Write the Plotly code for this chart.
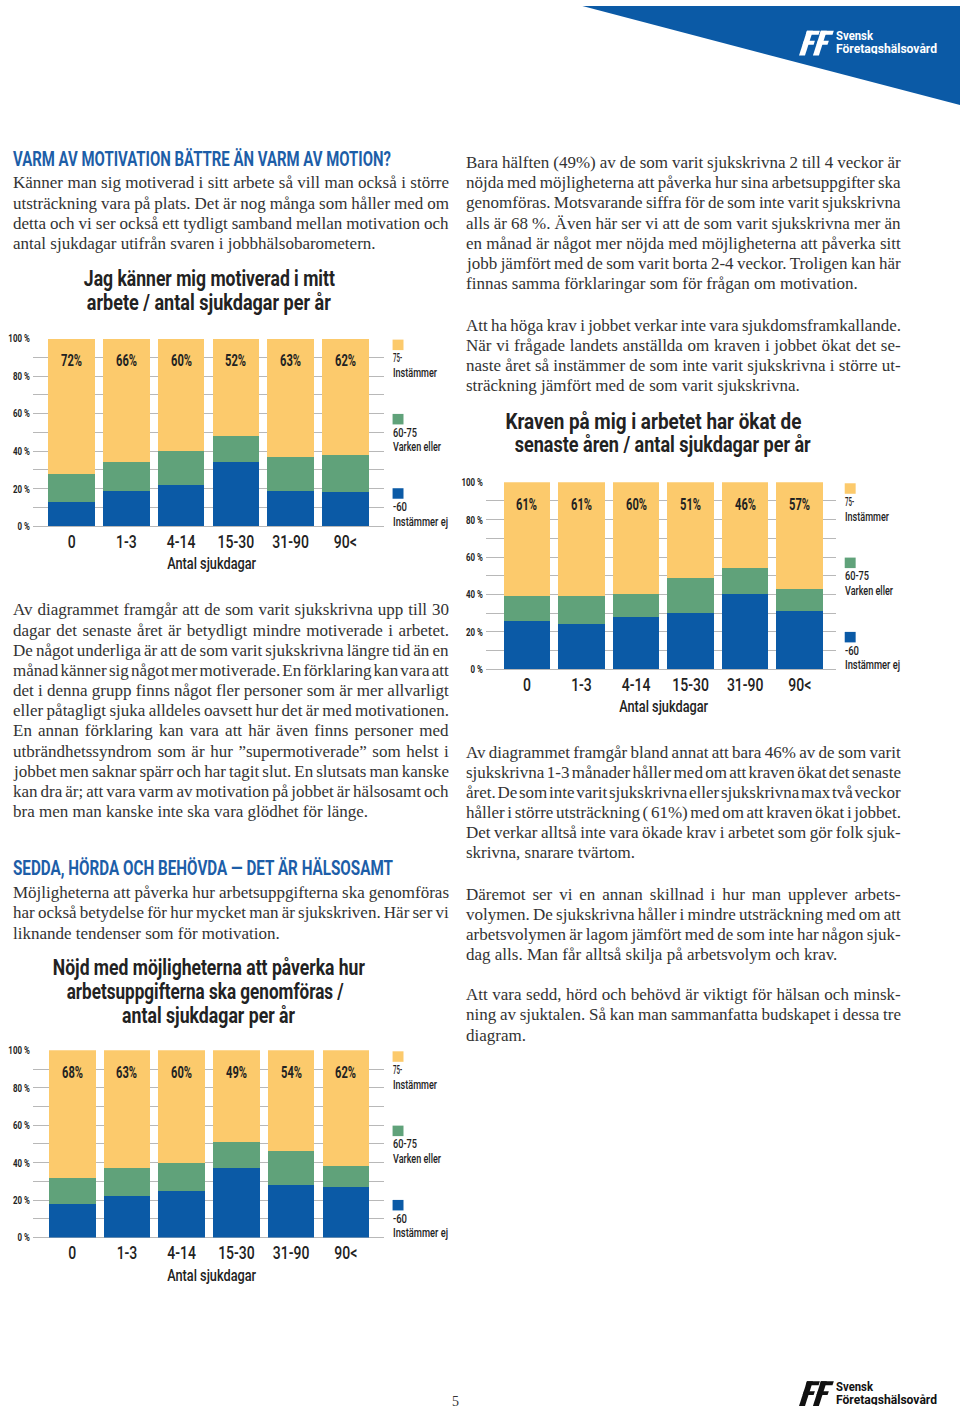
import plotly.graph_objects as go

W, H = 960, 1415

# ---------------- data ----------------
categories = ["0", "1-3", "4-14", "15-30", "31-90", "90<"]
y_tick_values = [0, 10, 20, 30, 40, 50, 60, 70, 80, 90, 100]
y_tick_labels = ["0 %", "", "20 %", "", "40 %", "", "60 %", "", "80 %", "", "100 %"]

legend_ranges = ["75-", "60-75", "-60"]
legend_names = ["Instämmer", "Varken eller", "Instämmer ej"]

# Chart 1: Jag känner mig motiverad i mitt arbete
motiv_instammer_ej = [13, 19, 22, 34, 19, 18]
motiv_varken = [15, 15, 18, 14, 18, 20]
motiv_instammer = [72, 66, 60, 52, 63, 62]

# Chart 2: Kraven på mig i arbetet har ökat de senaste åren
krav_instammer_ej = [26, 24, 28, 30, 40, 31]
krav_varken = [13, 15, 12, 19, 14, 12]
krav_instammer = [61, 61, 60, 51, 46, 57]

# Chart 3: Nöjd med möjligheterna att påverka hur arbetsuppgifterna ska genomföras
nojd_instammer_ej = [18, 22, 25, 37, 28, 27]
nojd_varken = [14, 15, 15, 14, 18, 11]
nojd_instammer = [68, 63, 60, 49, 54, 62]

chart1_title = ["Jag känner mig motiverad i mitt", "arbete / antal sjukdagar per år"]
chart2_title = ["Kraven på mig i arbetet har ökat de", "senaste åren / antal sjukdagar per år"]
chart3_title = ["Nöjd med möjligheterna att påverka hur", "arbetsuppgifterna ska genomföras /",
                "antal sjukdagar per år"]
x_title = "Antal sjukdagar"

heading1 = "VARM AV MOTIVATION BÄTTRE ÄN VARM AV MOTION?"
heading2 = "SEDDA, HÖRDA OCH BEHÖVDA — DET ÄR HÄLSOSAMT"

para_left1 = [
    "Känner man sig motiverad i sitt arbete så vill man också i större",
    "utsträckning vara på plats. Det är nog många som håller med om",
    "detta och vi ser också ett tydligt samband mellan motivation och",
    "antal sjukdagar utifrån svaren i jobbhälsobarometern.",
]
para_left2 = [
    "Av diagrammet framgår att de som varit sjukskrivna upp till 30",
    "dagar det senaste året är betydligt mindre motiverade i arbetet.",
    "De något underliga är att de som varit sjukskrivna längre tid än en",
    "månad känner sig något mer motiverade. En förklaring kan vara att",
    "det i denna grupp finns något fler personer som är mer allvarligt",
    "eller påtagligt sjuka alldeles oavsett hur det är med motivationen.",
    "En annan förklaring kan vara att här även finns personer med",
    "utbrändhetssyndrom som är hur ”supermotiverade” som helst i",
    "jobbet men saknar spärr och har tagit slut. En slutsats man kanske",
    "kan dra är; att vara varm av motivation på jobbet är hälsosamt och",
    "bra men man kanske inte ska vara glödhet för länge.",
]
para_left3 = [
    "Möjligheterna att påverka hur arbetsuppgifterna ska genomföras",
    "har också betydelse för hur mycket man är sjukskriven. Här ser vi",
    "liknande tendenser som för motivation.",
]
para_right1 = [
    "Bara hälften (49%) av de som varit sjukskrivna 2 till 4 veckor är",
    "nöjda med möjligheterna att påverka hur sina arbetsuppgifter ska",
    "genomföras. Motsvarande siffra för de som inte varit sjukskrivna",
    "alls är 68 %. Även här ser vi att de som varit sjukskrivna mer än",
    "en månad är något mer nöjda med möjligheterna att påverka sitt",
    "jobb jämfört med de som varit borta 2-4 veckor. Troligen kan här",
    "finnas samma förklaringar som för frågan om motivation.",
]
para_right2 = [
    "Att ha höga krav i jobbet verkar inte vara sjukdomsframkallande.",
    "När vi frågade landets anställda om kraven i jobbet ökat det se-",
    "naste året så instämmer de som inte varit sjukskrivna i större ut-",
    "sträckning jämfört med de som varit sjukskrivna.",
]
para_right3 = [
    "Av diagrammet framgår bland annat att bara 46% av de som varit",
    "sjukskrivna 1-3 månader håller med om att kraven ökat det senaste",
    "året. De som inte varit sjukskrivna eller sjukskrivna max två veckor",
    "håller i större utsträckning ( 61%) med om att kraven ökat i jobbet.",
    "Det verkar alltså inte vara ökade krav i arbetet som gör folk sjuk-",
    "skrivna, snarare tvärtom.",
]
para_right4 = [
    "Däremot ser vi en annan skillnad i hur man upplever arbets-",
    "volymen. De sjukskrivna håller i mindre utsträckning med om att",
    "arbetsvolymen är lagom jämfört med de som inte har någon sjuk-",
    "dag alls. Man får alltså skilja på arbetsvolym och krav.",
]
para_right5 = [
    "Att vara sedd, hörd och behövd är viktigt för hälsan och minsk-",
    "ning av sjuktalen. Så kan man sammanfatta budskapet i dessa tre",
    "diagram.",
]
logo_lines = ["Svensk", "Företagshälsovård"]
page_number = "5"

# ---------------- style ----------------
YELLOW = "#fcca6c"
GREEN = "#60a27a"
BLUE = "#0b5aa6"
HEAD_BLUE = "#1d5ea8"
TEXT = "#333333"
DARK = "#222222"
GRID = "#b8b8b8"
SERIF = "Liberation Serif, Times New Roman, serif"


def cond(marker):
    # marker is read by the post script to narrow the glyphs (condensed look)
    return "%s, Roboto, sans-serif" % marker


def just(width):
    return "xj%dl, Liberation Serif, serif" % width


def px(x):
    return x / W


def py(y):
    return 1 - y / H


fig = go.Figure()
annotations = []
shapes = []

charts = [
    dict(ax="", series=(motiv_instammer_ej, motiv_varken, motiv_instammer),
         left=27, right=380, top=335.7, bottom=525, xr=(-0.71, 5.70),
         title=chart1_title, title_x=[204.5, 204.5], title_w=[251, 244], title_y=275),
    dict(ax="2", series=(krav_instammer_ej, krav_varken, krav_instammer),
         left=483, right=835, top=480.7, bottom=669.3, xr=(-0.75, 5.66),
         title=chart2_title, title_x=[652, 661], title_w=[296, 296], title_y=419),
    dict(ax="3", series=(nojd_instammer_ej, nojd_varken, nojd_instammer),
         left=27, right=380, top=1054, bottom=1243, xr=(-0.72, 5.69),
         title=chart3_title, title_x=[204, 200.5, 203.5], title_w=[312, 277, 173], title_y=970.5),
]
legend_widths = [(9, 44), (24, 48), (14, 55)]

layout_axes = {}
for c in charts:
    a = c["ax"]
    xname, yname = "x" + a, "y" + a
    colors = [BLUE, GREEN, YELLOW]
    for vals, col, nm in zip(c["series"], colors, legend_names):
        fig.add_trace(go.Bar(x=categories, y=vals, marker=dict(color=col, line=dict(width=0)),
                             name=nm, xaxis=xname, yaxis=yname, showlegend=False,
                             hoverinfo="x+y"))
    layout_axes["xaxis" + a] = dict(
        domain=[px(c["left"]), px(c["right"])], range=list(c["xr"]), type="category",
        anchor=yname, showgrid=False, showline=False, zeroline=False, ticks="",
        tickfont=dict(family=cond("xf80c"), size=17.5, color=DARK, weight=500), fixedrange=True,
        ticklabelstandoff=3,
    )
    layout_axes["yaxis" + a] = dict(
        domain=[py(c["bottom"]), py(c["top"])], range=[0, 100], anchor=xname,
        tickvals=y_tick_values, ticktext=y_tick_labels, showgrid=True, gridcolor=GRID,
        gridwidth=1, zeroline=True, zerolinecolor=GRID, zerolinewidth=1, showline=False,
        ticks="", tickfont=dict(family=cond("xf72r"), size=11, color=DARK, weight="bold"),
        fixedrange=True, ticklabelstandoff=2,
    )
    # percentage labels (yellow series)
    for cat, v in zip(categories, c["series"][2]):
        annotations.append(dict(xref=xname, yref=yname, x=cat, y=88.3, text="%d%%" % v,
                                showarrow=False,
                                font=dict(family=cond("xw21c"), size=16.5, color=DARK, weight="bold")))
    # x axis title
    annotations.append(dict(xref="paper", yref="paper", x=px((c["left"] + c["right"]) / 2 + 3),
                            y=py(c["bottom"] + 38), text=x_title, showarrow=False,
                            xanchor="center", yanchor="middle",
                            font=dict(family=cond("xw89c"), size=16.5, color=DARK, weight=500)))
    # chart title
    for i, line in enumerate(c["title"]):
        annotations.append(dict(xref="paper", yref="paper", x=px(c["title_x"][i]),
                                y=py(c["title_y"] + i * 24), text=line,
                                showarrow=False, xanchor="center", yanchor="middle",
                                font=dict(family=cond("xw%dc" % c["title_w"][i]), size=22,
                                          color=DARK, weight="bold")))
    # legend blocks
    lx = c["right"] + 9
    legend_colors = [YELLOW, GREEN, BLUE]
    for k in range(3):
        off = c["top"] + k * 75
        shapes.append(dict(type="rect", xref="paper", yref="paper", x0=px(lx), x1=px(lx + 11),
                           y0=py(off + 11.6), y1=py(off + 1), fillcolor=legend_colors[k],
                           line=dict(width=0)))
        annotations.append(dict(xref="paper", yref="paper", x=px(lx - 2), y=py(off + 19.3),
                                text=legend_ranges[k], showarrow=False, xanchor="left",
                                yanchor="middle",
                                font=dict(family=cond("xw%dl" % legend_widths[k][0]), size=12.5,
                                          color=DARK, weight=500)))
        annotations.append(dict(xref="paper", yref="paper", x=px(lx - 2), y=py(off + 34.3),
                                text=legend_names[k], showarrow=False, xanchor="left",
                                yanchor="middle",
                                font=dict(family=cond("xw%dl" % legend_widths[k][1]), size=12.5,
                                          color=DARK, weight=500)))


def text_block(lines, x, y0, width, dy=20.35, size=17, color=TEXT):
    for i, line in enumerate(lines):
        fam = just(width) if i < len(lines) - 1 else SERIF
        annotations.append(dict(xref="paper", yref="paper", x=px(x), y=py(y0 + i * dy), text=line,
                                showarrow=False, xanchor="left", yanchor="middle",
                                font=dict(family=fam, size=size, color=color)))


def heading(text, x, y, width):
    annotations.append(dict(xref="paper", yref="paper", x=px(x), y=py(y), text=text,
                            showarrow=False, xanchor="left", yanchor="middle",
                            font=dict(family=cond("xw%dl" % width), size=19.5, color=HEAD_BLUE,
                                      weight="bold")))


heading(heading1, 5, 155, 378)
text_block(para_left1, 5, 178.5, 436)
text_block(para_left2, 5, 609.5, 436)
heading(heading2, 5, 871, 380)
text_block(para_left3, 5, 895, 436)
text_block(para_right1, 461, 158, 435)
text_block(para_right2, 461, 322, 435)
text_block(para_right3, 461, 753, 435)
text_block(para_right4, 461, 896.5, 435)
text_block(para_right5, 461, 998, 435)

annotations.append(dict(xref="paper", yref="paper", x=px(452), y=py(1408), text=page_number,
                        showarrow=False, xanchor="center", yanchor="middle",
                        font=dict(family=SERIF, size=14, color=TEXT)))

# blue corner triangle
shapes.append(dict(type="path", xref="paper", yref="paper",
                   path="M %f %f L %f %f L %f %f Z" % (px(580), py(0), px(960), py(0), px(960), py(100)),
                   fillcolor=BLUE, line=dict(width=0), layer="below"))


def logo(x0, y0, color):
    def poly(pts):
        s = "M " + " L ".join("%f %f" % (px(x0 + a), py(y0 + b)) for a, b in pts) + " Z"
        shapes.append(dict(type="path", xref="paper", yref="paper", path=s,
                           fillcolor=color, line=dict(width=0)))
    for dx in (0, 14):
        poly([(dx + 0, 25), (dx + 6, 25), (dx + 14, 0), (dx + 8, 0)])
        poly([(dx + 8, 0), (dx + 21, 0), (dx + 19.7, 4), (dx + 6.7, 4)])
        poly([(dx + 5, 10), (dx + 16, 10), (dx + 14.7, 14), (dx + 3.7, 14)])
    annotations.append(dict(xref="paper", yref="paper", x=px(x0 + 35), y=py(y0 + 4.5),
                            text=logo_lines[0], showarrow=False, xanchor="left",
                            yanchor="middle", height=12,
                            font=dict(family=cond("xw37l"), size=12.5, color=color, weight="bold")))
    annotations.append(dict(xref="paper", yref="paper", x=px(x0 + 35), y=py(y0 + 17.5),
                            text=logo_lines[1], showarrow=False, xanchor="left",
                            yanchor="middle", height=12,
                            font=dict(family=cond("xw101l"), size=12.5, color=color, weight="bold")))


logo(798, 25, "#ffffff")
logo(798, 1388, "#111111")

fig.update_layout(
    width=W, height=H, margin=dict(l=0, r=0, t=0, b=0),
    paper_bgcolor="white", plot_bgcolor="white",
    barmode="stack", bargap=0.147, showlegend=False,
    annotations=annotations, shapes=shapes,
    **layout_axes,
)

post = r"""
document.body.style.margin = '0';
document.body.style.overflow = 'hidden';
var gd = document.getElementById('{plot_id}');
gd.querySelectorAll('text').forEach(function (t) {
  var ff = t.style.fontFamily || '';
  var m = ff.match(/x(w|f|j)(\d+)([lcr])/);
  if (!m) return;
  var b0 = t.getBBox();
  if (m[1] === 'j') {
    var n = (t.textContent.match(/ /g) || []).length;
    if (n > 0) { t.style.wordSpacing = ((+m[2] - b0.width) / n) + 'px'; }
  } else {
    var L = t.getComputedTextLength();
    var target = m[1] === 'w' ? +m[2] : L * (+m[2]) / 100;
    t.setAttribute('textLength', target);
    t.setAttribute('lengthAdjust', 'spacingAndGlyphs');
  }
  var b1 = t.getBBox();
  var dx;
  if (m[3] === 'l') dx = b0.x - b1.x;
  else if (m[3] === 'r') dx = (b0.x + b0.width) - (b1.x + b1.width);
  else dx = (b0.x + b0.width / 2) - (b1.x + b1.width / 2);
  if (Math.abs(dx) > 0.01) {
    var x = parseFloat(t.getAttribute('x') || '0');
    t.setAttribute('x', x + dx);
  }
});
"""

fig.write_html("out.html", post_script=post, config={"displayModeBar": False})
